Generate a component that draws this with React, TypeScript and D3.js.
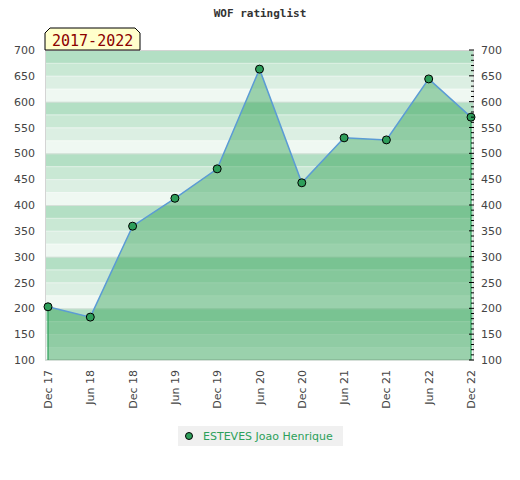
import React from "react";
import * as d3 from "d3";

const periods = ["Dec 17", "Jun 18", "Dec 18", "Jun 19", "Dec 19", "Jun 20", "Dec 20", "Jun 21", "Dec 21", "Jun 22", "Dec 22"];
const ratings = [203, 183, 359, 413, 470, 663, 443, 530, 526, 644, 570];
const yTicks = [100, 150, 200, 250, 300, 350, 400, 450, 500, 550, 600, 650, 700];
const bandColors = ["#b3dfc4", "#c9e8d4", "#dcefe3", "#eff8f2"];
const title = "WOF ratinglist";
const rangeLabel = "2017-2022";
const playerName = "ESTEVES Joao Henrique";

const W = 520, H = 480;
const L = 45, R = 474, T = 50, B = 360;

export default function App() {
  const y = d3.scaleLinear().domain([100, 700]).range([B, T]);
  const x = d3.scalePoint<string>().domain(periods).range([48, 471]);
  const data = periods.map((p, i) => ({ p, v: ratings[i] }));

  const area = d3.area<{ p: string; v: number }>()
    .x(d => x(d.p)!)
    .y0(B)
    .y1(d => y(d.v));
  const line = d3.line<{ p: string; v: number }>()
    .x(d => x(d.p)!)
    .y(d => y(d.v));

  const bands = d3.range(100, 700, 25).map(v => {
    const idx = 3 - ((v - 100) % 100) / 25; // top band of each block darkest
    return { v, color: bandColors[idx] };
  });
  const minor = d3.range(100, 701, 10);
  const first = data[0], last = data[data.length - 1];
  const font = "DejaVu Sans, sans-serif";
  const mono = "DejaVu Sans Mono, monospace";

  return (
    <div style={{ position: "absolute", left: 0, top: 0 }}>
      <svg width={W} height={H} style={{ display: "block", background: "#fff" }}>
        <text x={260} y={17} textAnchor="middle" fontFamily={mono} fontWeight="bold" fontSize={11} fill="#333">{title}</text>

        {bands.map(b => (
          <rect key={b.v} x={L} width={R - L} y={y(b.v + 25)} height={y(b.v) - y(b.v + 25)} fill={b.color} />
        ))}
        {bands.map(b => (
          <line key={"s" + b.v} x1={L} x2={R} y1={y(b.v) + 0.5} y2={y(b.v) + 0.5}
            stroke={b.v % 100 === 0 ? "#d6e0d9" : "#ffffff"} strokeOpacity={b.v % 100 === 0 ? 1 : 0.35} strokeWidth={1} />
        ))}
        <rect x={L + 0.5} y={T + 0.5} width={R - L - 1} height={B - T - 1} fill="none" stroke="#d4d4d4" strokeWidth={1} />

        <path d={area(data)!} fill="rgb(50,162,87)" fillOpacity={0.45} />
        <line x1={x(first.p)} x2={x(first.p)} y1={y(first.v)} y2={B} stroke="#2ca05a" strokeWidth={1.2} />
        <line x1={x(last.p)} x2={x(last.p)} y1={y(last.v)} y2={B} stroke="#2ca05a" strokeWidth={1.2} />
        <path d={line(data)!} fill="none" stroke="#5b9bd5" strokeWidth={1.5} />
        {data.map(d => (
          <circle key={d.p} cx={x(d.p)} cy={y(d.v)} r={4} fill="#2e9e5a" stroke="#000" strokeWidth={1} />
        ))}

        {minor.map(v => (
          <line key={"t" + v} x1={v % 50 === 0 ? R - 5 : R - 3} x2={R} y1={y(v)} y2={y(v)} stroke="#000" strokeWidth={1} />
        ))}

        {yTicks.map(v => (
          <text key={"l" + v} x={35} y={y(v) + 4} textAnchor="end" fontFamily={font} fontSize={11} fill="#444">{v}</text>
        ))}
        {yTicks.map(v => (
          <text key={"r" + v} x={481} y={y(v) + 4} textAnchor="start" fontFamily={font} fontSize={11} fill="#444">{v}</text>
        ))}
        {periods.map(p => (
          <text key={"x" + p} transform={`translate(${x(p)! + 4},370) rotate(-90)`} textAnchor="end" fontFamily={font} fontSize={11} fill="#444">{p}</text>
        ))}

        <path d={`M${L},${T} L${L},${T - 17} L${L + 5},${T - 22} L${140 - 5},${T - 22} L140,${T - 17} L140,${T} Z`}
          fill="#ffffcc" stroke="#000" strokeWidth={1} />
        <text x={52} y={46} fontFamily={mono} fontSize={15} fill="#8b0000">{rangeLabel}</text>

        <rect x={178} y={426} width={165} height={20} fill="#f0f0f0" />
        <circle cx={189} cy={436} r={3.5} fill="#2e9e5a" stroke="#000" strokeWidth={1} />
        <text x={203} y={440} fontFamily={font} fontSize={11} fill="#2ca05a">{playerName}</text>
      </svg>
    </div>
  );
}
